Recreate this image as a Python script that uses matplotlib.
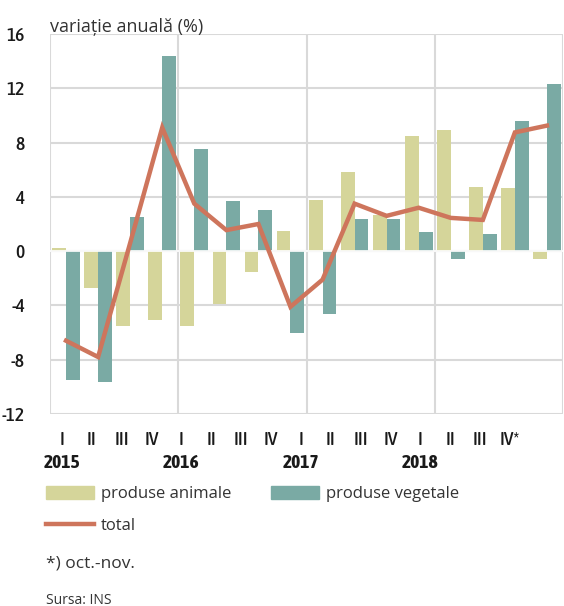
import matplotlib
matplotlib.use("Agg")
import matplotlib.pyplot as plt
import numpy as np
from matplotlib.patches import Patch
from matplotlib.lines import Line2D
import matplotlib.transforms as mtransforms

plt.rcParams["axes.unicode_minus"] = False

quarters = ["I", "II", "III", "IV", "I", "II", "III", "IV",
            "I", "II", "III", "IV", "I", "II", "III", "IV*"]
years = ["2015", "2016", "2017", "2018"]
animale = [0.2, -2.7, -5.5, -5.1, -5.5, -3.9, -1.55, 1.5,
           3.75, 5.8, 2.7, 8.45, 8.9, 4.75, 4.65, -0.55]
vegetale = [-9.5, -9.65, 2.55, 14.35, 7.55, 3.7, 3.0, -6.0,
            -4.65, 2.4, 2.4, 1.4, -0.55, 1.25, 9.6, 12.3]
total = [-6.6, -7.8, 0.6, 9.1, 3.5, 1.55, 2.0, -4.1,
         -2.1, 3.5, 2.6, 3.2, 2.45, 2.3, 8.75, 9.25]

c_anim = "#d5d59a"
c_veg = "#7aaaa4"
c_tot = "#ce755c"
c_grid = "#d9d9d9"
c_txt = "#1a1a1a"

narrow = "Asap Condensed"
body = "Open Sans"

fig = plt.figure(figsize=(5.64, 6.06), dpi=100)
ax = fig.add_axes([50/564, 1-414/606, 513/564, 380/606])

n = len(quarters)
x = np.arange(n) + 0.5
w = 0.43
ax.bar(x - w/2, animale, width=w, color=c_anim, zorder=2)
ax.bar(x + w/2, vegetale, width=w, color=c_veg, zorder=2)
ax.plot(x, total, color=c_tot, lw=3.2, zorder=3, solid_joinstyle="miter")

ax.set_xlim(0, n)
ax.set_ylim(-12, 16)
ax.set_yticks(np.arange(-12, 17, 4))
ax.yaxis.grid(True, color=c_grid, lw=1.5, zorder=0)
for xv in range(0, n + 1, 4):
    ax.axvline(xv, color=c_grid, lw=1.5, zorder=0)
for s in ax.spines.values():
    s.set_visible(False)
ax.axhline(0, color="white", lw=1.2, zorder=2.5)
ax.tick_params(axis="y", length=0, pad=18, labelsize=14, labelcolor=c_txt)
for lab in ax.get_yticklabels():
    lab.set_fontfamily(narrow)
    lab.set_fontweight("medium")

# quarter labels (slightly compressed layout as in source)
qpos = (62 + 29.87 * np.arange(n) - 50) / (513 / n)
ax.set_xticks(qpos)
ax.set_xticklabels(quarters, fontfamily=narrow, fontsize=14, color=c_txt,
                   fontweight="medium")
ax.tick_params(axis="x", length=0, pad=12)
trans = mtransforms.blended_transform_factory(ax.transData, ax.transAxes)
for i, yr in enumerate(years):
    ax.text(qpos[4 * i], -0.128, yr, transform=trans, ha="center", va="center",
            fontfamily=narrow, fontsize=14, fontweight="bold", color=c_txt)

fig.text(50/564, 1-32/606, "variație anuală (%)", fontfamily=body, fontsize=13,
         color="#333333", va="baseline", ha="left")

handles = [Patch(color=c_anim), Line2D([], [], color=c_tot, lw=3.2),
           Patch(color=c_veg)]
labels = ["produse animale", "total", "produse vegetale"]
fig.legend(handles, labels, ncol=2, loc="upper left",
           bbox_to_anchor=(46/564, 1-486/606), frameon=False,
           prop={"family": body, "size": 12}, labelcolor="#333333",
           handlelength=2.85, handleheight=0.85, handletextpad=0.45,
           columnspacing=2.4, labelspacing=0.9, borderpad=0, borderaxespad=0)

fig.text(46/564, 1-563/606, "*) oct.-nov.", fontfamily=body, fontsize=12.5,
         color="#333333", va="center", ha="left")
fig.text(46/564, 1-600/606, "Sursa: INS", fontfamily=body, fontsize=10,
         color="#333333", va="center", ha="left")

fig.savefig("out.png", dpi=100)
